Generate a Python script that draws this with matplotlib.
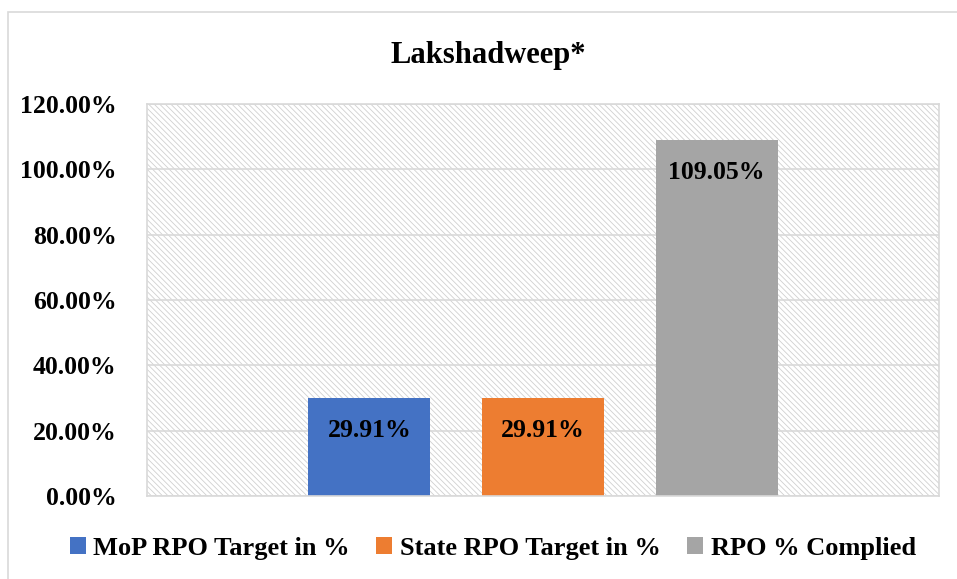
import matplotlib.pyplot as plt
from matplotlib.patches import Rectangle
from matplotlib.ticker import FuncFormatter
import numpy as np

plt.rcParams['font.family'] = ['Liberation Serif', 'DejaVu Serif']
plt.rcParams['font.weight'] = 'bold'
plt.rcParams['hatch.linewidth'] = 0.6

series = ['MoP RPO Target in %', 'State RPO Target in %', 'RPO % Complied']
values = [29.91, 29.91, 109.05]
colors = ['#4472c4', '#ed7d31', '#a5a5a5']
yticks = [0, 20, 40, 60, 80, 100, 120]

W, H = 957, 579
fig = plt.figure(figsize=(W / 100, H / 100), dpi=100)

# chart frame (only left/top visible in the crop)
fig.patches.append(Rectangle((8 / W, -0.1), 1.2, 1.1 - 12 / H,
                             transform=fig.transFigure, fill=False,
                             edgecolor='#d9d9d9', linewidth=1.2))

ax = fig.add_axes([147 / W, 1 - 496 / H, (939 - 147) / W, (496 - 104) / H])

x = np.arange(len(series))
ax.set_xlim(-1.28, 3.28)
ax.set_ylim(0, 120)

# hatched plot background
ax.add_patch(Rectangle((0, 0), 1, 1, transform=ax.transAxes, facecolor='white',
                       edgecolor='#d0d0d0', hatch='\\\\\\\\\\\\', linewidth=0, zorder=0))

ax.set_yticks(yticks)
ax.yaxis.set_major_formatter(FuncFormatter(lambda v, p: f'{v:.2f}%'))
ax.grid(axis='y', color='#d9d9d9', linewidth=1.2, zorder=1)
ax.set_axisbelow(True)
ax.set_xticks([])
ax.tick_params(axis='y', length=0, labelsize=18.5, pad=22)
for lbl in ax.get_yticklabels():
    lbl.set_fontweight('bold')
for side in ['top', 'right', 'left', 'bottom']:
    ax.spines[side].set_color('#d9d9d9')
    ax.spines[side].set_linewidth(1.2)

for xi, v, c, name in zip(x, values, colors, series):
    ax.bar(xi, v, width=0.703, color=c, label=name, zorder=2)
    ax.text(xi, v - 10, f'{v:.2f}%', ha='center', va='center',
            fontsize=18.5, fontweight='bold', color='black', zorder=3)

fig.text(488 / W, 1 - 55 / H, 'Lakshadweep*', ha='center', va='center',
         fontsize=22, fontweight='bold')

fig.legend(loc='center', bbox_to_anchor=(493 / W, 1 - 548 / H), ncol=3, frameon=False,
           prop={'size': 19, 'weight': 'bold'}, handlelength=0.6, handleheight=0.6,
           handletextpad=0.3, columnspacing=1.0)

fig.savefig('out.png', dpi=100)
